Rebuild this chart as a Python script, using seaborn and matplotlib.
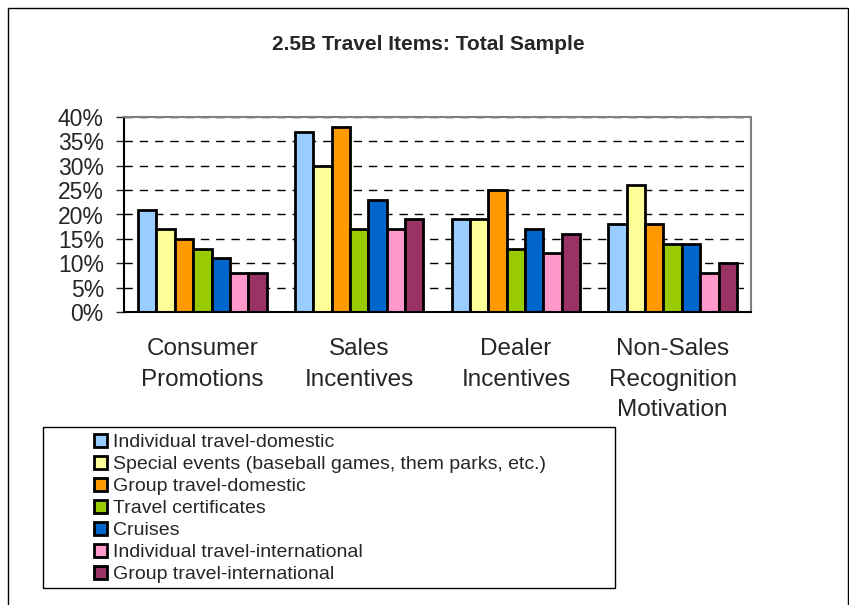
import pandas as pd
import matplotlib
matplotlib.use("Agg")
import matplotlib.pyplot as plt
import matplotlib.ticker as mtick
from matplotlib.patches import Rectangle
import seaborn as sns

# Chart data
categories = ["Consumer\nPromotions", "Sales\nIncentives", "Dealer\nIncentives",
              "Non-Sales\nRecognition\nMotivation"]
items = ["Individual travel-domestic",
         "Special events (baseball games, them parks, etc.)",
         "Group travel-domestic",
         "Travel certificates",
         "Cruises",
         "Individual travel-international",
         "Group travel-international"]
indiv_domestic = [21, 37, 19, 18]
special_events = [17, 30, 19, 26]
group_domestic = [15, 38, 25, 18]
certificates = [13, 17, 13, 14]
cruises = [11, 23, 17, 14]
indiv_international = [8, 17, 12, 8]
group_international = [8, 19, 16, 10]
colors = ["#99CCFF", "#FFFF99", "#FF9900", "#99CC00", "#0066CC", "#FF99CC", "#993366"]

series = [indiv_domestic, special_events, group_domestic, certificates,
          cruises, indiv_international, group_international]
rows = []
for item, vals in zip(items, series):
    for cat, v in zip(categories, vals):
        rows.append({"category": cat, "item": item, "percent": v})
df = pd.DataFrame(rows)

sns.set_style("white")
plt.rcParams["font.family"] = ["Liberation Sans", "DejaVu Sans"]

fig = plt.figure(figsize=(8.49, 6.05), dpi=100)
ax = fig.add_axes([124 / 849, 1 - 312 / 605, 627 / 849, 195 / 605])

sns.barplot(data=df, x="category", y="percent", hue="item", hue_order=items,
            order=categories, palette=colors, saturation=1, width=0.82, gap=0,
            edgecolor="black", linewidth=2, ax=ax, legend=True)

ax.set_ylim(0, 40)
ax.set_yticks(range(0, 41, 5))
ax.yaxis.set_major_formatter(mtick.FuncFormatter(lambda x, pos: f"{x:.0f}%"))
ax.yaxis.grid(True, linestyle=(0, (6, 5)), color="black", linewidth=1)
ax.set_axisbelow(True)
ax.set_xlabel("")
ax.set_ylabel("")
ax.tick_params(axis="y", direction="out", length=5.5, width=1, labelsize=16.5, pad=9, left=True)
ax.tick_params(axis="x", length=0, labelsize=17.5, pad=19)
for lbl in ax.get_xticklabels():
    lbl.set_linespacing(1.5)
for side in ["top", "right"]:
    ax.spines[side].set_color("#808080")
    ax.spines[side].set_linewidth(1.5)
for side in ["left", "bottom"]:
    ax.spines[side].set_color("black")
    ax.spines[side].set_linewidth(1.5)

# legend
handles, labels = ax.get_legend_handles_labels()
ax.legend_.remove()
leg = fig.legend(handles, labels, loc="upper left", bbox_to_anchor=(94 / 849, 1 - 434 / 605),
                 frameon=False, fontsize=14, handlelength=0.68, handleheight=0.68,
                 handletextpad=0.3, labelspacing=0.23, borderaxespad=0, borderpad=0)
fig.patches.append(Rectangle((43 / 849, 1 - 588 / 605), 572 / 849, 161 / 605,
                             transform=fig.transFigure, fill=False,
                             edgecolor="black", linewidth=1))

# outer frame and title
fig.patches.append(Rectangle((8 / 849, -0.01), 840 / 849, 1 - 8 / 605 + 0.01,
                             transform=fig.transFigure, fill=False,
                             edgecolor="black", linewidth=1))
fig.text(428 / 849, 1 - 44 / 605, "2.5B Travel Items: Total Sample", ha="center",
         va="center", fontsize=15, fontweight="bold")

fig.savefig("out.png", dpi=100)
